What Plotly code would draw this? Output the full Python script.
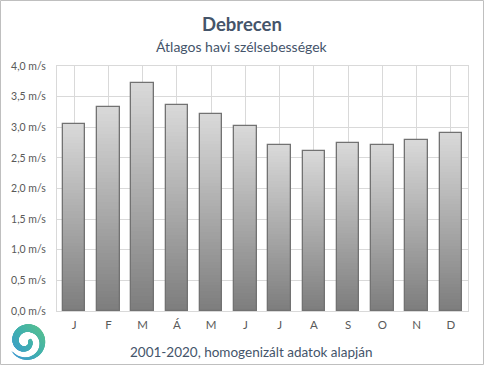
import plotly.graph_objects as go
import base64
import math

# ---- data ----
month_labels = ["J", "F", "M", "Á", "M", "J", "J", "A", "S", "O", "N", "D"]
wind_speed = [3.05, 3.33, 3.72, 3.37, 3.21, 3.02, 2.71, 2.61, 2.74, 2.71, 2.79, 2.90]
y_ticks = [0.0, 0.5, 1.0, 1.5, 2.0, 2.5, 3.0, 3.5, 4.0]

title = "Debrecen"
subtitle = "Átlagos havi szélsebességek"
footer = "2001-2020, homogenizált adatok alapján"

# ---- layout constants ----
W, H = 485, 366
L, R, T, B = 57, 468, 66, 311
FONT = "Lato"

top_rgb = (217, 217, 217)
bot_rgb = (125, 125, 125)
N = 60

xs = list(range(len(wind_speed)))
fig = go.Figure()
for k in range(N):
    f = 1 - k / N
    c = tuple(round(bot_rgb[i] + (top_rgb[i] - bot_rgb[i]) * (f - 0.5 / N)) for i in range(3))
    fig.add_trace(go.Bar(
        x=xs, y=[v * f for v in wind_speed],
        marker=dict(color="rgb(%d,%d,%d)" % c, line=dict(width=0)),
        width=0.655, hoverinfo="skip", showlegend=False))
fig.add_trace(go.Bar(
    x=xs, y=wind_speed,
    marker=dict(color="rgba(0,0,0,0)", line=dict(color="#727272", width=1.3)),
    width=0.655, showlegend=False))

# ---- logo (decorative spiral) as svg ----
segs = []
th0, th1 = 215.0, 720.0
steps = 120
pts = []
for i in range(steps + 1):
    t = i / steps
    th = math.radians(th0 + (th1 - th0) * t)
    r = 17.5 - 12.5 * t
    cx, cy = 22.0 - 3.0 * t, 21.0
    pts.append((cx + r * math.cos(th), cy - r * math.sin(th), t))
for i in range(steps):
    x0, y0, t = pts[i]
    x1, y1, _ = pts[i + 1]
    if t < 0.4:
        w = 0.8 + 6.4 * (t / 0.4)
    else:
        w = 7.2 - 3.6 * (t - 0.4) / 0.6
    segs.append('<line x1="%.2f" y1="%.2f" x2="%.2f" y2="%.2f" stroke-width="%.2f"/>' % (x0, y0, x1, y1, w))
svg = ('<svg xmlns="http://www.w3.org/2000/svg" width="44" height="44" viewBox="0 0 44 44">'
       '<defs><linearGradient id="g" gradientUnits="userSpaceOnUse" x1="40" y1="6" x2="4" y2="38">'
       '<stop offset="0" stop-color="#5cc386"/><stop offset="0.5" stop-color="#40b0ae"/>'
       '<stop offset="1" stop-color="#3b92d8"/></linearGradient></defs>'
       '<g stroke="url(#g)" stroke-linecap="round" fill="none">' + "".join(segs) + '</g></svg>')
src = "data:image/svg+xml;base64," + base64.b64encode(svg.encode()).decode()


def px(x):
    return (x - L) / (R - L)


def py(y):
    return (B - y) / (B - T)


fig.add_layout_image(dict(source=src, xref="paper", yref="paper",
                          x=px(4), y=py(318), sizex=px(52) - px(4), sizey=py(318) - py(366),
                          xanchor="left", yanchor="top", sizing="stretch", layer="above"))

# ---- border ----
fig.add_shape(type="rect", xref="paper", yref="paper",
              x0=px(0.5), x1=px(483.5), y0=py(0.5), y1=py(364.5),
              line=dict(color="#bfbfbf", width=1), fillcolor="rgba(0,0,0,0)")

fig.add_annotation(text="<b>" + title + "</b>", xref="paper", yref="paper",
                   x=px(242), y=py(24), showarrow=False, xanchor="center", yanchor="middle",
                   font=dict(family=FONT, size=18.5, color="#44546a"))
fig.add_annotation(text=subtitle, xref="paper", yref="paper",
                   x=px(242), y=py(47), showarrow=False, xanchor="center", yanchor="middle",
                   font=dict(family=FONT, size=14, color="#44546a"))
fig.add_annotation(text=footer, xref="paper", yref="paper",
                   x=px(251), y=py(352), showarrow=False, xanchor="center", yanchor="middle",
                   font=dict(family=FONT, size=13.5, color="#44546a"))

fig.update_layout(
    width=W, height=H,
    margin=dict(l=L, r=W - R, t=T, b=H - B, pad=0),
    paper_bgcolor="white", plot_bgcolor="white",
    barmode="overlay", bargap=0,
    separators=", ",
    font=dict(family=FONT, size=11, color="#595959"),
    xaxis=dict(tickmode="array", tickvals=xs, ticktext=month_labels,
               range=[-0.5, len(wind_speed) - 0.5], tickson="boundaries",
               showgrid=True, gridcolor="#d9d9d9", gridwidth=1,
               showline=True, linecolor="#d9d9d9", mirror=True,
               ticks="outside", ticklen=3, tickcolor="rgba(0,0,0,0)",
               tickfont=dict(size=11.5, color="#595959"),
               fixedrange=True),
    yaxis=dict(range=[0, 4], tickmode="array", tickvals=y_ticks,
               ticktext=[("%.1f" % v).replace(".", ",") + " m/s" for v in y_ticks],
               showgrid=True, gridcolor="#d9d9d9", gridwidth=1,
               zeroline=False, showline=True, linecolor="#d9d9d9", mirror=True,
               ticks="outside", ticklen=8, tickcolor="rgba(0,0,0,0)",
               tickfont=dict(size=10.5, color="#595959"), fixedrange=True),
)

fig.write_html("out.html", config={"displayModeBar": False},
               post_script="document.body.style.margin='0';document.body.style.overflow='hidden';")
